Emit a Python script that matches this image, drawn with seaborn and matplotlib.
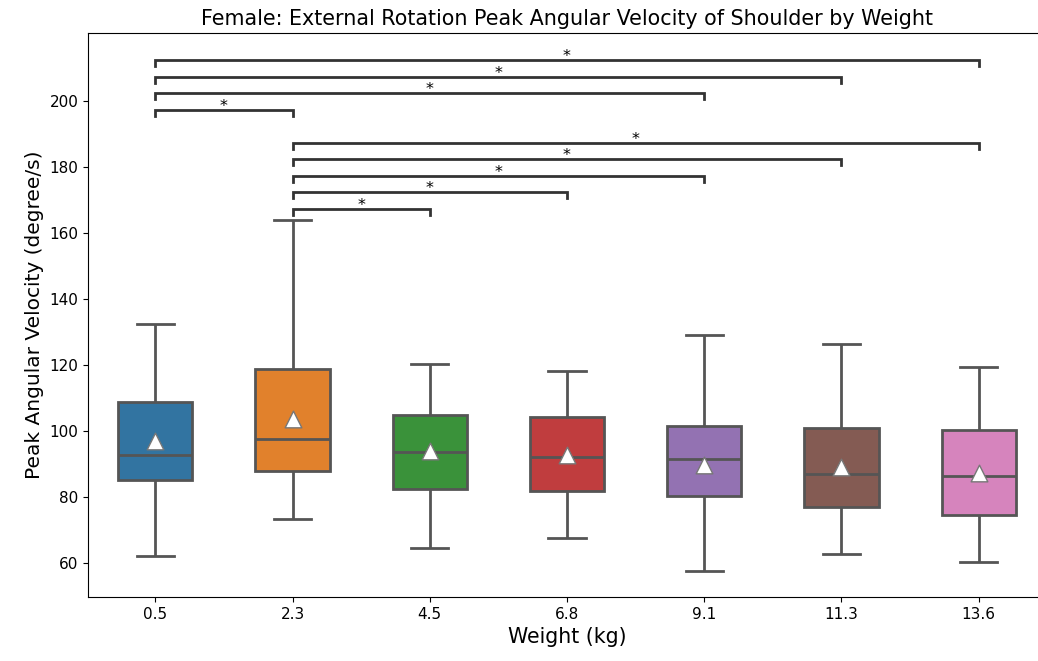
import numpy as np
import pandas as pd
import matplotlib
matplotlib.use("Agg")
import matplotlib.pyplot as plt
import seaborn as sns

weights = ["0.5", "2.3", "4.5", "6.8", "9.1", "11.3", "13.6"]
whisker_low = [62.1, 73.3, 64.5, 67.6, 57.6, 62.7, 60.3]
q1 = [85.2, 87.9, 82.4, 81.8, 80.3, 77.0, 74.5]
median = [92.7, 97.6, 93.6, 92.1, 91.5, 87.0, 86.4]
q3 = [108.8, 118.8, 104.8, 104.2, 101.5, 100.9, 100.3]
whisker_high = [132.4, 164.0, 120.3, 118.2, 129.1, 126.4, 119.4]
means = [97.0, 103.6, 94.0, 92.7, 89.7, 89.1, 87.3]

# significance pairs (index pairs) and their stacking steps
sig_pairs = [(1, 2), (1, 3), (1, 4), (1, 5), (1, 6), (0, 1), (0, 4), (0, 5), (0, 6)]
sig_steps = [0, 1, 2, 3, 4, 6, 7, 8, 9]
sig_labels = ["*"] * len(sig_pairs)

rows = []
for w, a, b, c, d, e in zip(weights, whisker_low, q1, median, q3, whisker_high):
    for v in (a, b, c, d, e):
        rows.append({"Weight": w, "Velocity": v})
df = pd.DataFrame(rows)
mean_df = pd.DataFrame({"Weight": weights, "Mean": means})

fig = plt.figure(figsize=(10.38, 6.61), dpi=100)
ax = fig.add_axes([88 / 1038, 64 / 661, 958 / 1038, 564 / 661])

line_kw = dict(color="#555555", linewidth=2)
sns.boxplot(data=df, x="Weight", y="Velocity", hue="Weight", order=weights,
            hue_order=weights, palette="tab10", saturation=0.75, width=0.54,
            linecolor="#555555", linewidth=2, legend=False, ax=ax,
            whiskerprops=line_kw, capprops=line_kw, medianprops=line_kw)
sns.stripplot(data=mean_df, x="Weight", y="Mean", order=weights, marker="^",
              color="white", edgecolor="#777777", linewidth=1, size=12,
              jitter=False, ax=ax, zorder=5)

top = max(whisker_high) + 3.3
step = 5.0
tick = 1.8
for (i, j), s, lab in zip(sig_pairs, sig_steps, sig_labels):
    y = top + step * s
    ax.plot([i, i, j, j], [y - tick, y, y, y - tick], color="#333333", linewidth=2,
            solid_joinstyle="miter")
    ax.text((i + j) / 2, y - 1.2, lab, ha="center", va="bottom", fontsize=11.5)

ax.set_xlim(-0.49, 6.49)
ax.set_ylim(49.7, 220.6)
ax.set_yticks([60, 80, 100, 120, 140, 160, 180, 200])
ax.set_xlabel("Weight (kg)", fontsize=14.8)
ax.set_ylabel("Peak Angular Velocity (degree/s)", fontsize=14.5)
ax.set_title("Female: External Rotation Peak Angular Velocity of Shoulder by Weight",
             fontsize=14.9)
ax.tick_params(labelsize=11)

fig.savefig("out.png", dpi=100)
